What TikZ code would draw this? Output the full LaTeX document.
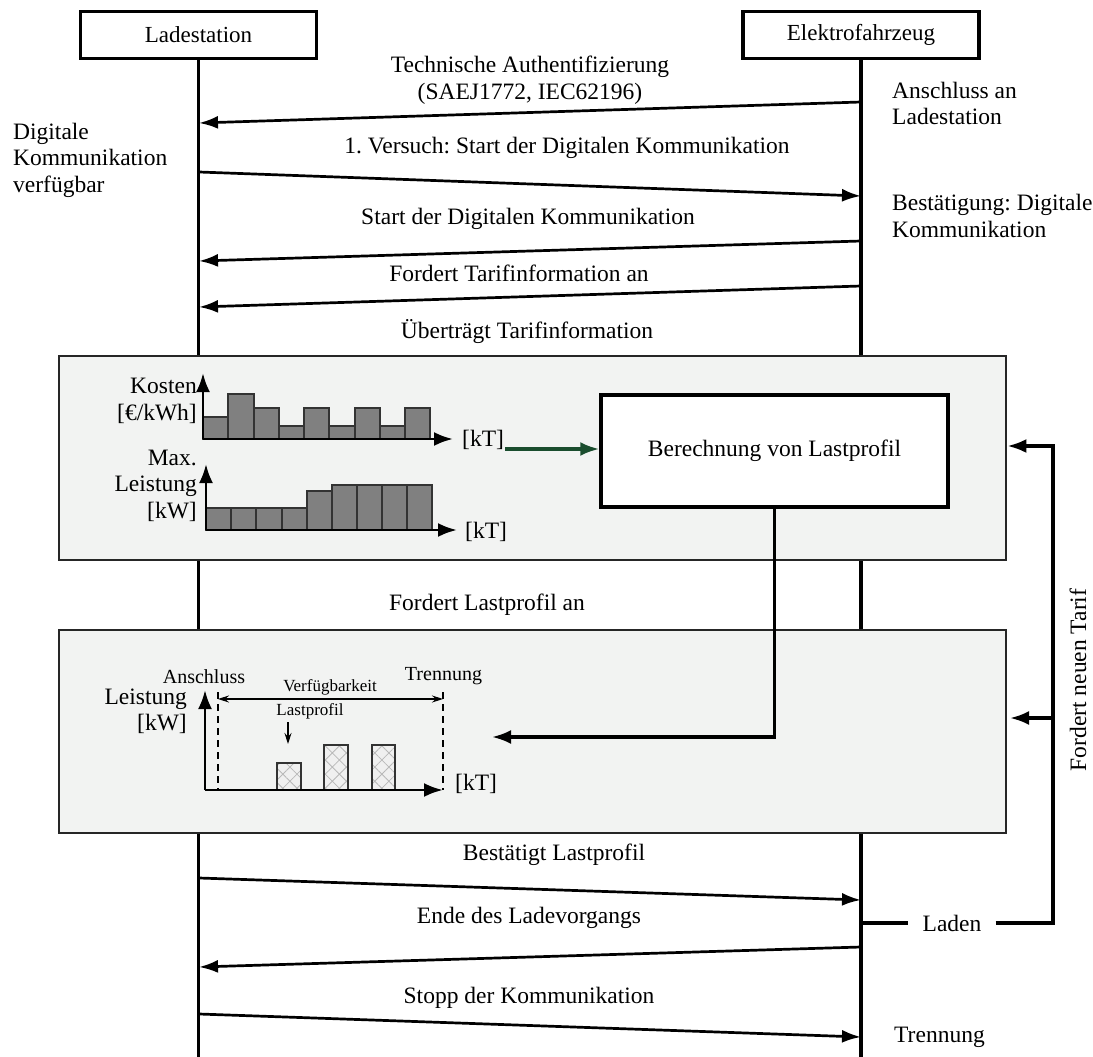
\documentclass[tikz,border=0pt]{standalone}
\usepackage{fontspec}
\setmainfont{Liberation Serif}
\frenchspacing
\usetikzlibrary{arrows.meta,patterns.meta}

\definecolor{panelgray}{RGB}{242,243,242}
\definecolor{bargray}{RGB}{128,128,128}
\definecolor{darkgreen}{RGB}{26,77,46}
\definecolor{hatchbg}{RGB}{240,240,240}

\tikzset{
  lbl/.style={inner sep=0pt, font=\fontsize{23.5}{26.5}\selectfont},
  smalllbl/.style={inner sep=0pt, font=\fontsize{17}{20}\selectfont},
  midlbl/.style={inner sep=0pt, font=\fontsize{20}{23}\selectfont},
  hdr/.style={draw, line width=3.5pt, fill=white, minimum width=236pt, minimum height=47pt, inner sep=0pt, font=\fontsize{23}{26}\selectfont},
  lifeline/.style={line width=3.5pt},
  msg/.style={line width=2.7pt, -{Latex[length=19pt,width=13pt]}},
  conn/.style={line width=3.2pt, -{Latex[length=19pt,width=14pt]}},
  plainconn/.style={line width=3.2pt},
  panel/.style={draw=black!85, line width=2.4pt, fill=panelgray, inner sep=0pt, anchor=north west},
  calcbox/.style={draw, line width=3.5pt, fill=white, minimum width=347pt, minimum height=112pt, inner sep=0pt, font=\fontsize{23.5}{26.5}\selectfont},
  axis/.style={line width=2.8pt, -{Latex[length=19pt,width=14pt]}},
  bar/.style={draw=black!80, line width=1.1pt, fill=bargray},
  hbar/.style={draw=black!80, line width=1.3pt},
  dim/.style={line width=1.1pt, {Stealth[length=11pt,width=7pt]}-{Stealth[length=11pt,width=7pt]}},
  pointer/.style={line width=1.1pt, -{Stealth[length=11pt,width=7pt]}},
  guide/.style={line width=1.1pt, dash pattern=on 7pt off 5pt},
}

\begin{document}
\begin{tikzpicture}[x=1pt,y=-1pt]
\useasboundingbox (0,0) rectangle (1093,1057);
\fill[white] (0,0) rectangle (1093,1057);

% participants and lifelines
\node[hdr] (ls) at (198.5,35) {Ladestation};
\node[hdr] (ev) at (861,35) {Elektrofahrzeug};
\coordinate (lsEnd) at (ls.center |- 0,1057);
\coordinate (evEnd) at (ev.center |- 0,1057);
\draw[lifeline] (ls.south) -- (lsEnd);
\draw[lifeline] (ev.south) -- (evEnd);

% message end points on the lifelines
\coordinate (r1) at (861,102);  \coordinate (l1) at (199,123);
\coordinate (l2) at (199,172);  \coordinate (r2) at (861,196);
\coordinate (r3) at (861,241);  \coordinate (l3) at (199,261);
\coordinate (r4) at (861,286);  \coordinate (l4) at (199,307);
\coordinate (l5) at (199,878);  \coordinate (r5) at (861,900);
\coordinate (r6) at (861,947);  \coordinate (l6) at (199,967);
\coordinate (l7) at (199,1014); \coordinate (r7) at (861,1037);

\draw[msg] (r1) -- (l1);
\draw[msg] (l2) -- (r2);
\draw[msg] (r3) -- (l3);
\draw[msg] (r4) -- (l4);
\draw[msg] (l5) -- (r5);
\draw[msg] (r6) -- (l6);
\draw[msg] (l7) -- (r7);

% message labels
\node[lbl, align=center] (t1) at (530,80) {Technische Authentifizierung\\(SAEJ1772, IEC62196)};
\node[lbl] (t2) at (567,148) {1. Versuch: Start der Digitalen Kommunikation};
\node[lbl] (t3) at (528,219) {Start der Digitalen Kommunikation};
\node[lbl] (t4) at (519,273) {Fordert Tarifinformation an};
\node[lbl] (t5) at (527,332) {Überträgt Tarifinformation};
\node[lbl] (t6) at (487,605) {Fordert Lastprofil an};
\node[lbl] (t7) at (554,855) {Bestätigt Lastprofil};
\node[lbl] (t8) at (529,918) {Ende des Ladevorgangs};
\node[lbl] (t9) at (529,998) {Stopp der Kommunikation};

% state notes beside the lifelines
\node[lbl, align=left, anchor=west] (s1) at (892,103.5) {Anschluss an\\Ladestation};
\node[lbl, align=left, anchor=west] (s2) at (13,160) {Digitale\\Kommunikation\\verfügbar};
\node[lbl, align=left, anchor=west] (s3) at (892,216) {Bestätigung: Digitale\\Kommunikation};
\node[lbl, anchor=west] (s4) at (894,1037) {Trennung};

% tariff panel
\node[panel, minimum width=947pt, minimum height=204pt] (panA) at (58,355) {};
% price chart
\draw[bar] (203,417) rectangle (228,439);
\draw[bar] (228,394) rectangle (254,439);
\draw[bar] (254,408) rectangle (279,439);
\draw[bar] (279,426) rectangle (304,439);
\draw[bar] (304,408) rectangle (329,439);
\draw[bar] (329,426) rectangle (355,439);
\draw[bar] (355,408) rectangle (380,439);
\draw[bar] (380,426) rectangle (405,439);
\draw[bar] (405,408) rectangle (430,439);
\coordinate (kO) at (203,439);
\coordinate (kY) at (203,373);
\coordinate (kX) at (453,439);
\draw[axis] (kO) -- (kY);
\draw[axis] (kO) -- (kX);
\node[lbl, align=right, anchor=east] (kLab) at (197,401) {Kosten\\{}[€/kWh]};
\node[lbl, anchor=west] (kT1) at (462,440) {[kT]};
% power limit chart
\draw[bar] (206,508) rectangle (231,530);
\draw[bar] (231,508) rectangle (256,530);
\draw[bar] (256,508) rectangle (282,530);
\draw[bar] (282,508) rectangle (307,530);
\draw[bar] (307,491) rectangle (332,530);
\draw[bar] (332,485) rectangle (357,530);
\draw[bar] (357,485) rectangle (382,530);
\draw[bar] (382,485) rectangle (407,530);
\draw[bar] (407,485) rectangle (432,530);
\coordinate (pO) at (206,530);
\coordinate (pY) at (206,464);
\coordinate (pX) at (457,530);
\draw[axis] (pO) -- (pY);
\draw[axis] (pO) -- (pX);
\node[lbl, align=right, anchor=east] (pLab) at (197,485.5) {Max.\\Leistung\\{}[kW]};
\node[lbl, anchor=west] (kT2) at (465,532) {[kT]};

% load profile calculation
\node[calcbox] (calc) at (774.5,451) {Berechnung von Lastprofil};
\coordinate (gStart) at (505,449);
\draw[line width=3.2pt, darkgreen, -{Latex[length=19pt,width=14pt]}] (gStart) -- (gStart -| calc.west);

% load profile panel
\node[panel, minimum width=947pt, minimum height=203pt] (panB) at (58,629) {};
\coordinate (lO) at (205,790);
\coordinate (lY) at (205,690);
\coordinate (lX) at (443,790);
\coordinate (dA) at (218,692);
\coordinate (dB) at (443,692);
\draw[guide] (dA) -- (dA |- lO);
\draw[guide] (dB) -- (dB |- lO);
\draw[dim] (218,699) -- (443,699);
\foreach \xa/\xb/\yt in {277/301/763, 324/348/745, 372/395/745}{
  \fill[hatchbg] (\xa,\yt) rectangle (\xb,790);
  \fill[pattern={Hatch[angle=45,distance=10pt,line width=0.8pt]}, pattern color=black!28] (\xa,\yt) rectangle (\xb,790);
  \draw[hbar] (\xa,\yt) rectangle (\xb,790);
}
\draw[axis] (lO) -- (lY);
\draw[axis] (lO) -- (lX);
\node[smalllbl] (vf) at (330,687) {Verfügbarkeit};
\node[smalllbl] (lp) at (310,711) {Lastprofil};
\coordinate (lpA) at (288,722);
\coordinate (lpB) at (288,744);
\draw[pointer] (lpA) -- (lpB);
\node[midlbl] (an) at (204,677) {Anschluss};
\node[midlbl] (tr) at (443.5,676) {Trennung};
\node[lbl, align=right, anchor=east] (lLab) at (187,711.5) {Leistung\\{}[kW]};
\node[lbl, anchor=west] (kT3) at (455,784) {[kT]};

% result fed back into the profile chart
\coordinate (profIn) at (492,737);
\draw[conn] (calc.south) |- (profIn);

% charging loop requesting a new tariff
\node[lbl, inner xsep=14pt, inner ysep=4pt] (laden) at (952,923) {Laden};
\coordinate (loopB) at (1053,923);
\coordinate (loopT) at (1053,446);
\coordinate (loopM) at (1053,718);
\coordinate (evL) at (861,923);
\draw[plainconn] (evL) -- (laden.west);
\draw[conn] (laden.east) -- (loopB) -- (loopT) -- (loopT -| panA.east);
\draw[conn] (loopM) -- (1010,718);
\node[lbl, rotate=90] (nt) at (1078,680) {Fordert neuen Tarif};
\end{tikzpicture}
\end{document}
